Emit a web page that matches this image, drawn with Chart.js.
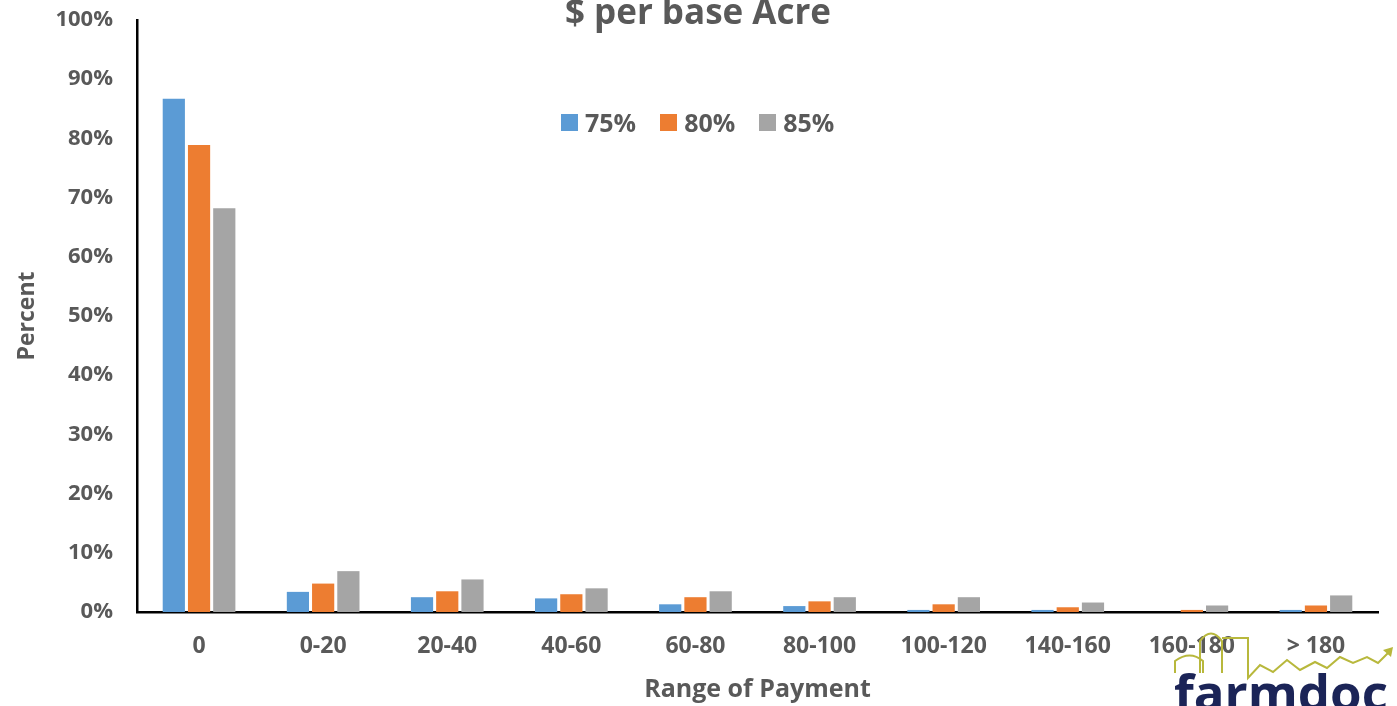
<!DOCTYPE html>
<html>
<head>
<meta charset="utf-8">
<script src="https://cdn.jsdelivr.net/npm/chart.js@4/dist/chart.umd.min.js"></script>
<style>
  html, body { margin: 0; padding: 0; background: #fff; overflow: hidden; }
  #wrap { position: relative; width: 1397px; height: 706px; overflow: hidden; }
  #legend { position: absolute; left: 561px; top: 105px; display: flex; align-items: center;
            font: bold 25px "Open Sans", sans-serif; color: #595959; }
  #legend span.box { display: inline-block; width: 17px; height: 17px; margin-right: 7px; }
  #legend span.item { display: flex; align-items: center; margin-right: 24px; }
  #logo { position: absolute; left: 1174px; top: 656px; font: bold 51px "Open Sans", sans-serif;
          color: #1b2457; letter-spacing: 0px; }
  #logoArt { position: absolute; left: 0; top: 0; pointer-events: none; }
</style>
</head>
<body>
<div id="wrap">
  <canvas id="payChart" width="1397" height="706"></canvas>
  <div id="legend"></div>
  <svg id="logoArt" width="1397" height="706">
    <g fill="none" stroke="#b8b83c" stroke-width="2">
      <path d="M1175 673 V661 Q1190 650 1203 661 V673"/>
      <path d="M1200 673 V641 Q1211 626 1222 641 V673"/>
      <path d="M1222 638 H1248 V678 L1260 665 L1273 672 L1287 660 L1300 670 L1315 662 L1327 668 L1340 657 L1353 663 L1367 657 L1378 663 L1390 651"/>
    </g>
    <path d="M1393 647 L1383 650 L1391 657 Z" fill="#b8b83c"/>
  </svg>
  <div id="logo">farmdoc</div>
</div>
<script>
const categories = ['0', '0-20', '20-40', '40-60', '60-80', '80-100', '100-120', '140-160', '160-180', '> 180'];
const pct75 = [86.7, 3.4, 2.5, 2.3, 1.3, 1.0, 0.35, 0.35, 0, 0.35];
const pct80 = [78.9, 4.8, 3.5, 3.0, 2.5, 1.8, 1.3, 0.8, 0.35, 1.1];
const pct85 = [68.2, 6.9, 5.5, 4.0, 3.5, 2.5, 2.5, 1.6, 1.1, 2.8];
const seriesNames = ['75%', '80%', '85%'];
const seriesColors = ['#5B9BD5', '#ED7D31', '#A5A5A5'];

const txt = '#595959';
const fontFam = '"Open Sans", sans-serif';

// title drawn over the top edge like the original (partly cut off)
const titlePlugin = {
    id: 'topTitle',
    afterDraw(chart) {
        const ctx = chart.ctx;
        ctx.save();
        ctx.font = 'bold 35px ' + fontFam;
        ctx.fillStyle = txt;
        ctx.textAlign = 'center';
        ctx.textBaseline = 'alphabetic';
        ctx.fillText('$ per base Acre', 698, 24);
        ctx.restore();
    }
};

let ctxB = document.getElementById('payChart').getContext('2d');
let payChart = new Chart(ctxB, {
    type: 'bar',
    data: {
        labels: categories,
        datasets: [
            { label: seriesNames[0], data: pct75, backgroundColor: seriesColors[0] },
            { label: seriesNames[1], data: pct80, backgroundColor: seriesColors[1] },
            { label: seriesNames[2], data: pct85, backgroundColor: seriesColors[2] }
        ]
    },
    options: {
        responsive: false,
        animation: false,
        layout: { padding: { top: 20, right: 19, left: 0, bottom: 0 } },
        datasets: { bar: { categoryPercentage: 0.61, barPercentage: 0.88 } },
        plugins: {
            legend: { display: false },
            tooltip: { enabled: false }
        },
        scales: {
            x: {
                grid: { display: false },
                border: { display: true, color: '#000', width: 2.5 },
                ticks: { color: txt, font: { family: fontFam, size: 23, weight: 'bold' }, padding: 13, maxRotation: 0 },
                title: { display: true, text: 'Range of Payment', color: txt,
                         font: { family: fontFam, size: 25, weight: 'bold' }, padding: { top: 4, bottom: 1 } },
                afterFit(s) { s.height = 94; s.paddingLeft = 0; s.paddingRight = 0; }
            },
            y: {
                min: 0, max: 100,
                grid: { display: false, drawTicks: false },
                border: { display: true, color: '#000', width: 2.5 },
                ticks: { stepSize: 10, color: txt, padding: 24,
                         font: { family: fontFam, size: 22, weight: 'bold' },
                         callback: v => v + '%' },
                title: { display: true, text: 'Percent', color: txt,
                         font: { family: fontFam, size: 23, weight: 'bold' }, padding: { top: 14, bottom: 0 } },
                afterFit(s) { s.width = 137; s.paddingTop = 0; s.paddingBottom = 0; }
            }
        }
    },
    plugins: [titlePlugin]
});

// legend built from the dataset names
const lg = document.getElementById('legend');
seriesNames.forEach((n, i) => {
    const it = document.createElement('span');
    it.className = 'item';
    it.innerHTML = '<span class="box" style="background:' + seriesColors[i] + '"></span>' + n;
    lg.appendChild(it);
});
</script>
</body>
</html>
